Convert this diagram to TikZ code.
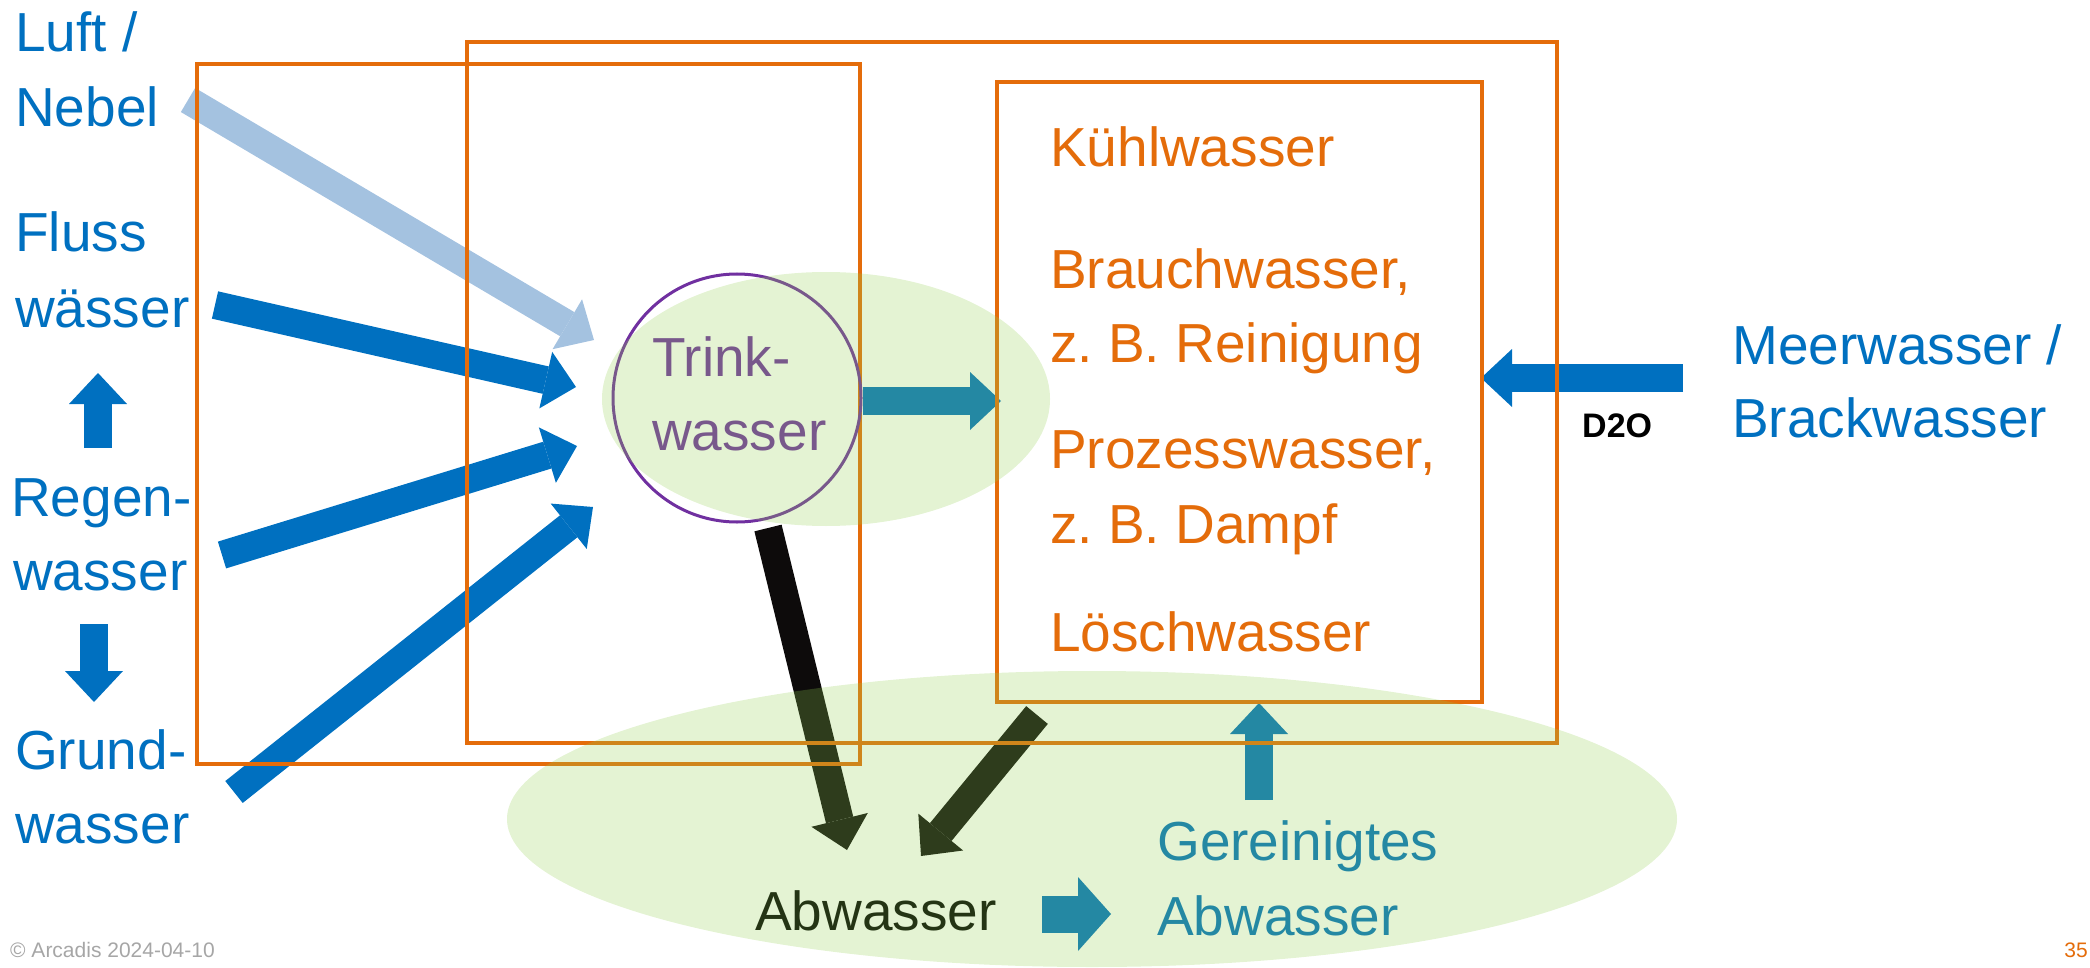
\documentclass[tikz,border=0pt]{standalone}
\usepackage{fontspec}
\setmainfont{Liberation Sans}
\usetikzlibrary{arrows.meta}
\frenchspacing

\definecolor{orng}{RGB}{228,108,10}
\definecolor{wblue}{RGB}{0,112,192}
\definecolor{lblue}{RGB}{164,194,224}
\definecolor{purp}{RGB}{112,48,160}
\definecolor{lgreen}{RGB}{146,208,80}
\definecolor{ink}{RGB}{13,11,11}
\definecolor{note}{RGB}{166,166,166}

\tikzset{
  lbl/.style={inner sep=0pt, anchor=base west, font=\fontsize{55}{66}\selectfont},
  small/.style={inner sep=0pt, anchor=base west, font=\fontsize{21}{25}\selectfont},
  box/.style={draw=orng, line width=4pt},
  flow/.style={line width=28pt, -{Triangle[length=31pt,width=58pt,line width=0pt]}},
  bigflow/.style={line width=37pt, -{Triangle[length=33pt,width=74pt,line width=0pt]}},
  haze/.style={fill=lgreen, fill opacity=0.25},
}

\begin{document}
\begin{tikzpicture}[x=1pt,y=-1pt]
\useasboundingbox (0,0) rectangle (2090,968);

% end points of the flow arrows
\coordinate (luftS) at (188,100);   \coordinate (luftE) at (594,340);
\coordinate (flussS) at (215,305);  \coordinate (flussE) at (576,387);
\coordinate (regenS) at (222,555);  \coordinate (regenE) at (577,446);
\coordinate (grundS) at (234,792);  \coordinate (grundE) at (593,507);
\coordinate (trinkS) at (863,401);  \coordinate (trinkE) at (1001,401);
\coordinate (drainS) at (768,528);  \coordinate (drainE) at (847,850);
\coordinate (useS) at (1037,715);   \coordinate (useE) at (921,856);
\coordinate (cleanS) at (1042,914); \coordinate (cleanE) at (1111,914);
\coordinate (backS) at (1259,800);  \coordinate (backE) at (1259,703);
\coordinate (seaS) at (1683,378);   \coordinate (seaE) at (1481,378);
\coordinate (upS) at (98,448);      \coordinate (upE) at (98,373);
\coordinate (downS) at (94,624);    \coordinate (downE) at (94,702);

% arrows
\draw[flow, lblue] (luftS) -- (luftE);
\draw[flow, wblue] (flussS) -- (flussE);
\draw[flow, wblue] (regenS) -- (regenE);
\draw[flow, wblue] (grundS) -- (grundE);
\draw[flow, wblue] (trinkS) -- (trinkE);
\draw[flow, ink] (drainS) -- (drainE);
\draw[flow, ink] (useS) -- (useE);
\draw[bigflow, wblue] (cleanS) -- (cleanE);
\draw[flow, wblue] (backS) -- (backE);
\draw[flow, wblue] (seaS) -- (seaE);
\draw[flow, wblue] (upS) -- (upE);
\draw[flow, wblue] (downS) -- (downE);

% frames
\draw[box] (197,64) rectangle (860,764);
\draw[box] (467,42) rectangle (1557,743);
\draw[box] (997,82) rectangle (1482,702);

% drinking water circle
\node[circle, draw=purp, line width=3pt, minimum size=248pt, inner sep=0pt] (trink) at (737,398) {};
\node[lbl, text=purp] (trink1) at (652,376) {Trink-};
\node[lbl, text=purp] (trink2) at (652,450) {wasser};

% sources
\node[lbl, text=wblue] (luft1) at (15,52) {Luft /};
\node[lbl, text=wblue] (luft2) at (15,127) {Nebel};
\node[lbl, text=wblue] (fluss1) at (15,252) {Fluss};
\node[lbl, text=wblue] (fluss2) at (15,327) {wässer};
\node[lbl, text=wblue] (regen1) at (11,516) {Regen-};
\node[lbl, text=wblue] (regen2) at (13,590) {wasser};
\node[lbl, text=wblue] (grund1) at (15,769) {Grund-};
\node[lbl, text=wblue] (grund2) at (15,843) {wasser};
\node[lbl, text=wblue] (meer1) at (1732,364) {Meerwasser /};
\node[lbl, text=wblue] (meer2) at (1732,437) {Brackwasser};
\node[inner sep=0pt, anchor=base west, font=\bfseries\fontsize{34}{40}\selectfont] (d2o) at (1582,437) {D2O};

% uses
\node[lbl, text=orng] (use1) at (1050,167) {Kühlwasser};
\node[lbl, text=orng] (use2) at (1050,288) {Brauchwasser,};
\node[lbl, text=orng] (use3) at (1050,362) {z. B. Reinigung};
\node[lbl, text=orng] (use4) at (1050,468) {Prozesswasser,};
\node[lbl, text=orng] (use5) at (1050,543) {z. B. Dampf};
\node[lbl, text=orng] (use6) at (1050,651) {Löschwasser};

% waste water
\node[lbl, text=black] (abw) at (755,930) {Abwasser};
\node[lbl, text=wblue] (ger1) at (1157,860) {Gereinigtes};
\node[lbl, text=wblue] (ger2) at (1157,935) {Abwasser};

% translucent green zones
\fill[haze] (826,399) ellipse [x radius=224, y radius=127];
\fill[haze] (1092,819) ellipse [x radius=585, y radius=148];

% footer
\node[small, text=note] (copy) at (10,957) {© Arcadis 2024-04-10};
\node[inner sep=0pt, anchor=base east, font=\fontsize{21}{25}\selectfont, text=orng] (page) at (2088,957) {35};
\end{tikzpicture}
\end{document}
